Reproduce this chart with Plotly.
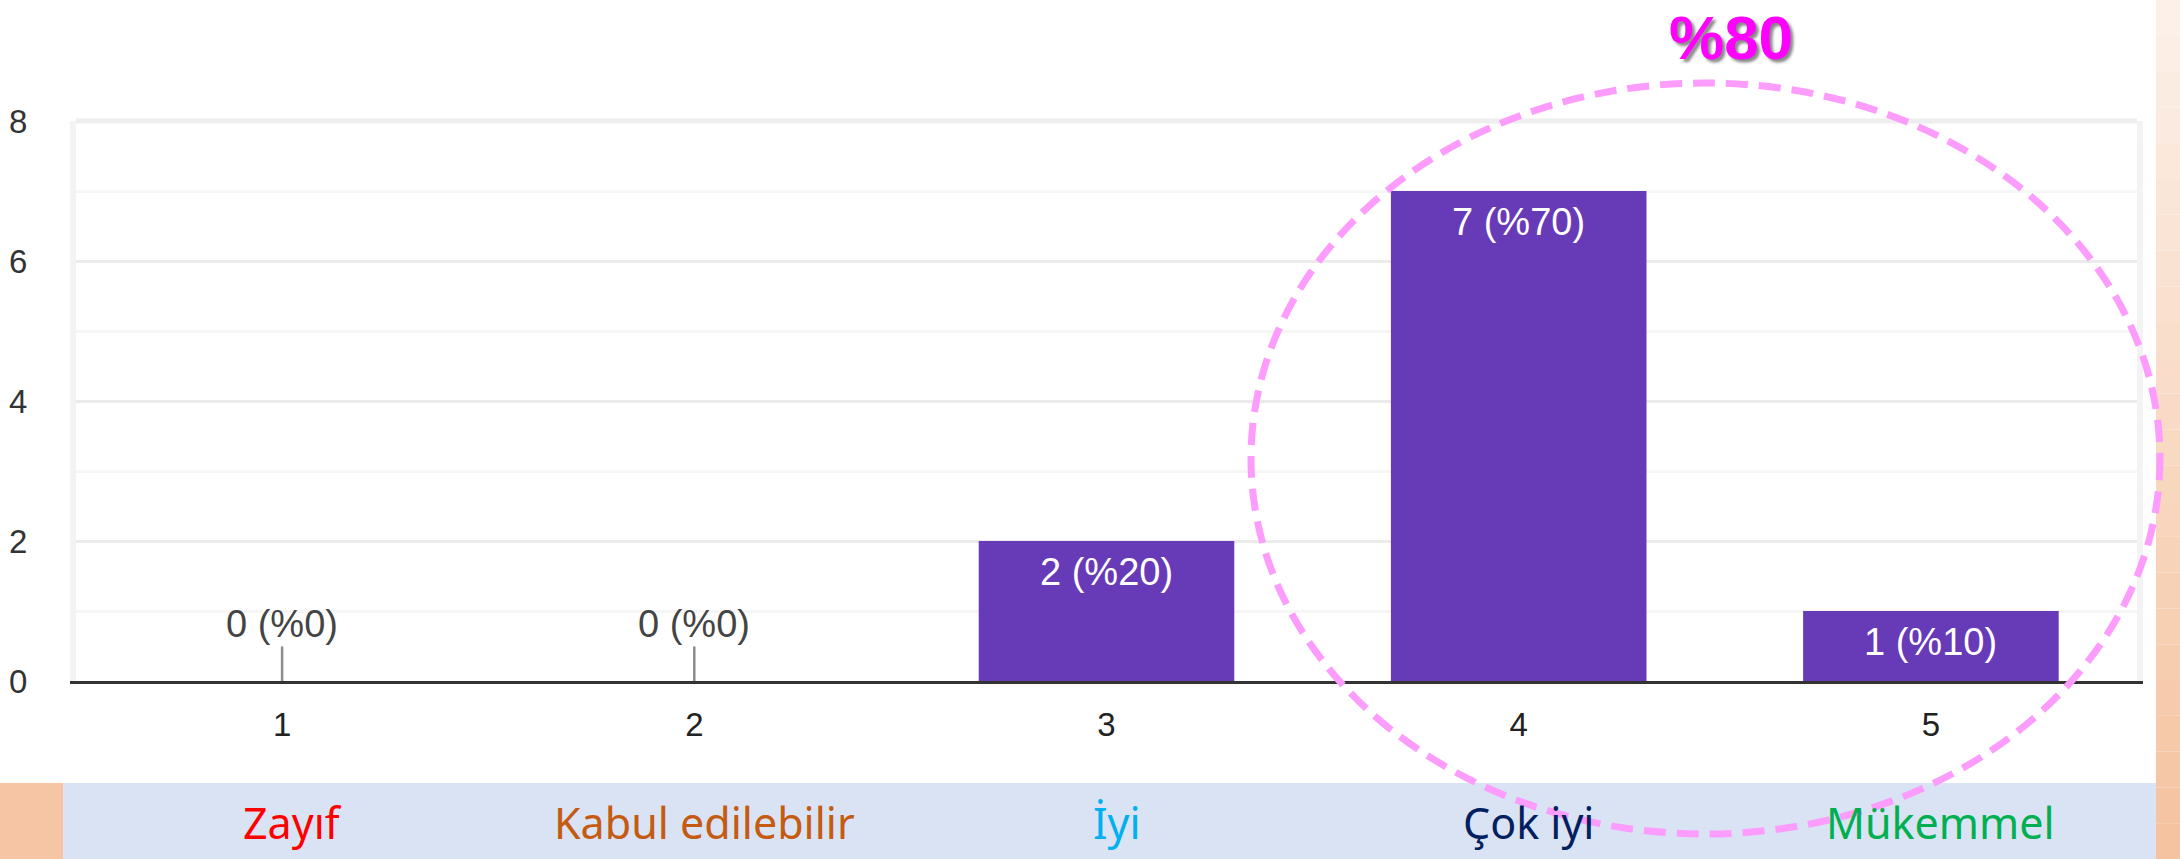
import plotly.graph_objects as go

# survey result, rating 1-5
categories = [1, 2, 3, 4, 5]
counts = [0, 0, 2, 7, 1]
percents = [0, 0, 20, 70, 10]
labels_tr = ["Zayıf", "Kabul edilebilir", "İyi", "Çok iyi", "Mükemmel"]
label_colors = ["#ff0000", "#c55a11", "#00b0f0", "#002060", "#00b050"]
y_ticks = [0, 2, 4, 6, 8]
highlight_text = "%80"

W, H = 2180, 859
ML, MR, MT, MB = 76, 43, 121, 178
PW, PH = W - ML - MR, H - MT - MB


def px_x(x):
    return (x - ML) / PW


def px_y(y):
    return (H - MB - y) / PH


fig = go.Figure()
fig.add_trace(go.Bar(
    x=categories, y=counts,
    marker=dict(color="#673ab7", line=dict(width=0)),
    hoverinfo="skip",
))

# value labels
for c, n, p in zip(categories, counts, percents):
    txt = f"{n} (%{p})"
    if n == 0:
        fig.add_annotation(x=c, y=0, xref="x", yref="y", text=txt,
                           showarrow=True, arrowhead=0, arrowwidth=2.5,
                           arrowcolor="#8c8c8c", ax=0, ay=-57,
                           font=dict(family="Liberation Sans, Arial", size=38, color="#444444"))
    else:
        fig.add_annotation(x=c, y=n, xref="x", yref="y", text=txt,
                           showarrow=False, yanchor="top", yshift=-8,
                           font=dict(family="Liberation Sans, Arial", size=38, color="white"))

# band of category names under the chart
fig.add_shape(type="rect", xref="paper", yref="paper",
              x0=px_x(63), x1=px_x(2156), y0=px_y(H), y1=px_y(783),
              fillcolor="#dae3f3", line=dict(width=0), layer="below")
fig.add_shape(type="rect", xref="paper", yref="paper",
              x0=px_x(0), x1=px_x(63), y0=px_y(H), y1=px_y(783),
              fillcolor="#f6c6a4", line=dict(width=0), layer="below")

# right strip with vertical gradient
steps = 24
top_rgb = (252, 240, 232)
bot_rgb = (245, 195, 160)
for i in range(steps):
    t = i / (steps - 1)
    col = "rgb(%d,%d,%d)" % tuple(round(a + (b - a) * t) for a, b in zip(top_rgb, bot_rgb))
    fig.add_shape(type="rect", xref="paper", yref="paper",
                  x0=px_x(2156), x1=px_x(W),
                  y0=px_y(H * (i + 1) / steps), y1=px_y(H * i / steps),
                  fillcolor=col, line=dict(width=0), layer="below")

for c, lab, col in zip(categories, labels_tr, label_colors):
    fig.add_annotation(x=c, y=px_y(822), xref="x", yref="paper", text=lab,
                       showarrow=False, xshift=10, xanchor="center", yanchor="middle",
                       font=dict(family="Noto Sans", size=43, color=col))

# top border of plot area
fig.add_shape(type="line", xref="paper", yref="paper", x0=0, x1=1, y0=1, y1=1,
              line=dict(color="#eeeeee", width=5))

# dashed highlight ellipse
fig.add_shape(type="circle", xref="paper", yref="paper",
              x0=px_x(1251), x1=px_x(2160), y0=px_y(834), y1=px_y(83),
              line=dict(color="#fc9cfc", width=7, dash="22px,11px"))

fig.add_annotation(x=px_x(1731), y=px_y(37), xref="paper", yref="paper",
                   text=f"<b>{highlight_text}</b>", showarrow=False,
                   xanchor="center", yanchor="middle",
                   font=dict(family="Liberation Sans, Arial", size=62, color="#ff00ff",
                             shadow="3px 3px 3px #888888"))

fig.update_layout(
    width=W, height=H,
    margin=dict(l=ML, r=MR, t=MT, b=MB, autoexpand=False),
    paper_bgcolor="white", plot_bgcolor="white",
    showlegend=False, bargap=0.38,
    xaxis=dict(
        range=[0.5, 5.5], tickvals=categories, showgrid=False,
        showline=True, linecolor="#333333", linewidth=3, zeroline=False,
        ticks="", ticklabelstandoff=12,
        tickfont=dict(family="Liberation Sans, Arial", size=33, color="#222222"),
    ),
    yaxis=dict(
        range=[0, 8], tickvals=y_ticks, showline=True, mirror=True,
        linecolor="#f3f3f3", linewidth=6, zeroline=False,
        gridcolor="#ebebeb", gridwidth=3,
        minor=dict(dtick=1, showgrid=True, gridcolor="#f6f6f6", gridwidth=3),
        ticks="", ticklabelstandoff=36,
        tickfont=dict(family="Liberation Sans, Arial", size=33, color="#333333"),
    ),
)

# page body has an 8px default margin; drop it so the figure fills the window
fig.write_html("out.html", config={"displayModeBar": False},
               post_script="document.body.style.margin='0';")
